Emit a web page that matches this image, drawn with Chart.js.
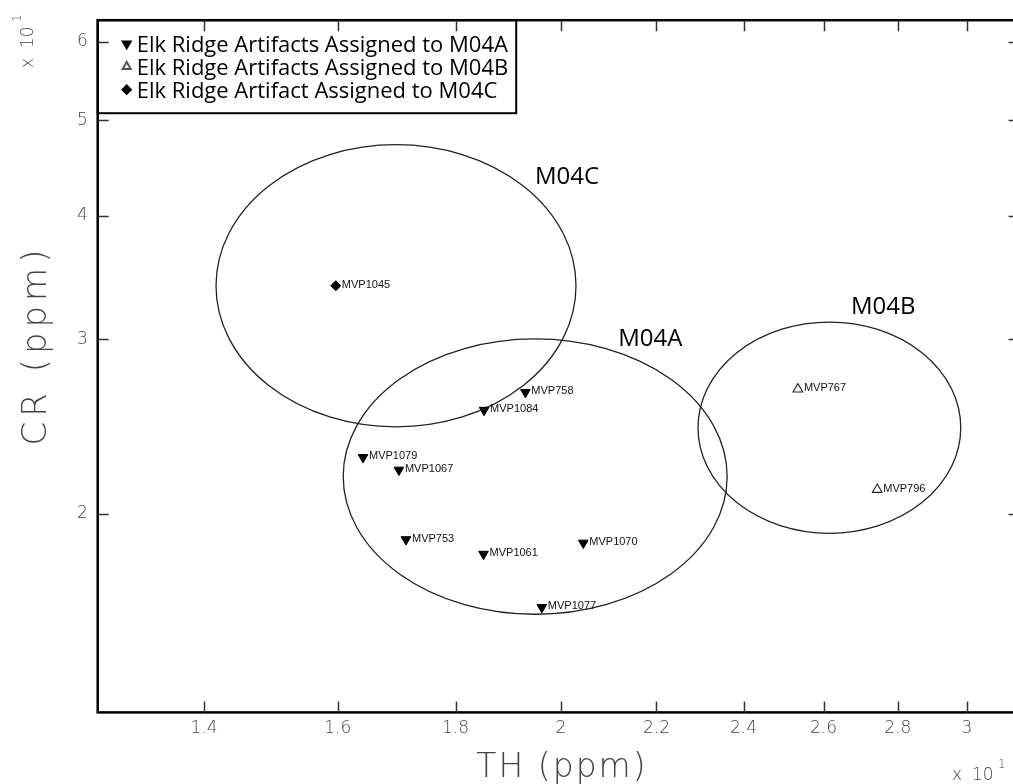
<!DOCTYPE html>
<html>
<head>
<meta charset="utf-8">
<script src="https://cdn.jsdelivr.net/npm/chart.js@4.4.1/dist/chart.umd.min.js"></script>
<style>
  html, body { margin: 0; padding: 0; background: #fff; overflow: hidden; width: 1013px; height: 784px; }
  #wrap { position: relative; width: 1030px; height: 784px; }
  canvas { display: block; }
</style>
</head>
<body>
<div id="wrap"><canvas id="c" width="1030" height="784"></canvas></div>
<script>
// Th vs Cr (ppm) for Elk Ridge artifacts, grouped by assigned source
const m04aIds = ['MVP758', 'MVP1084', 'MVP1079', 'MVP1067', 'MVP753', 'MVP1061', 'MVP1070', 'MVP1077'];
const m04aTh  = [19.30, 18.52, 16.41, 17.01, 17.13, 18.51, 20.45, 19.62];
const m04aCr  = [26.53, 25.45, 22.80, 22.14, 18.83, 18.20, 18.68, 16.08];

const m04bIds = ['MVP767', 'MVP796'];
const m04bTh  = [25.34, 27.43];
const m04bCr  = [26.72, 21.15];

const m04cIds = ['MVP1045'];
const m04cTh  = [15.97];
const m04cCr  = [34.0];

// Source group ellipses: centre (ppm) and half-axes (log10 units)
const groupNames = ['M04A', 'M04B', 'M04C'];
const groupTh    = [19.49, 26.15, 16.96];
const groupCr    = [21.80, 24.43, 34.00];
const groupHalfX = [0.0833, 0.0570, 0.0781];
const groupHalfY = [0.1392, 0.1068, 0.1427];

// Axis ticks (labels shown in units of 10 ppm)
const xTickValues = [14, 16, 18, 20, 22, 24, 26, 28, 30];
const xTickLabels = ['1.4', '1.6', '1.8', '2', '2.2', '2.4', '2.6', '2.8', '3'];
const yTickValues = [20, 30, 40, 50, 60];
const yTickLabels = ['2', '3', '4', '5', '6'];

const legendLabels = [
  'Elk Ridge Artifacts Assigned to M04A',
  'Elk Ridge Artifacts Assigned to M04B',
  'Elk Ridge Artifact Assigned to M04C'
];

const toPoints = (xs, ys) => xs.map((v, i) => ({ x: v, y: ys[i] }));

const TICK_FONT = { family: '"DejaVu Sans", sans-serif', size: 17, weight: '200' };
const THIN = '"DejaVu Sans", sans-serif';

const datasets = [
  {
    label: legendLabels[0], ids: m04aIds, data: toPoints(m04aTh, m04aCr),
    pointStyle: 'triangle', rotation: 180, pointRadius: 5.6,
    backgroundColor: '#000', borderColor: '#000', borderWidth: 1
  },
  {
    label: legendLabels[1], ids: m04bIds, data: toPoints(m04bTh, m04bCr),
    pointStyle: 'triangle', rotation: 0, pointRadius: 5.6,
    backgroundColor: 'rgba(255,255,255,0)', borderColor: '#222', borderWidth: 1.1
  },
  {
    label: legendLabels[2], ids: m04cIds, data: toPoints(m04cTh, m04cCr),
    pointStyle: 'rectRot', pointRadius: 5,
    backgroundColor: '#000', borderColor: '#000', borderWidth: 1
  }
];

// Group ellipses and their names
const ellipsePlugin = {
  id: 'groupEllipses',
  beforeDatasetsDraw(chart, args, opts) {
    const { ctx, chartArea: a } = chart;
    const xs = chart.scales.x, ys = chart.scales.y;
    ctx.save();
    ctx.beginPath();
    ctx.rect(a.left, a.top, a.right - a.left, a.bottom - a.top);
    ctx.clip();
    ctx.strokeStyle = '#222';
    ctx.lineWidth = 1.3;
    groupNames.forEach((name, i) => {
      const cx = xs.getPixelForValue(groupTh[i]);
      const cy = ys.getPixelForValue(groupCr[i]);
      const rx = xs.getPixelForValue(groupTh[i] * Math.pow(10, groupHalfX[i])) - cx;
      const ry = cy - ys.getPixelForValue(groupCr[i] * Math.pow(10, groupHalfY[i]));
      ctx.beginPath();
      ctx.ellipse(cx, cy, rx, ry, 0, 0, Math.PI * 2);
      ctx.stroke();
      const off = opts.labelOffsets[i];
      ctx.fillStyle = '#000';
      ctx.font = '24px "Open Sans", sans-serif';
      ctx.textBaseline = 'alphabetic';
      ctx.textAlign = 'left';
      ctx.fillText(name, cx + off[0], cy + off[1]);
    });
    ctx.restore();
  }
};

// Sample ids beside each point
const idPlugin = {
  id: 'sampleIds',
  afterDatasetsDraw(chart) {
    const ctx = chart.ctx;
    ctx.save();
    ctx.font = '11px "Liberation Sans", Arial, sans-serif';
    ctx.fillStyle = '#111';
    ctx.textBaseline = 'middle';
    ctx.textAlign = 'left';
    chart.data.datasets.forEach((ds, i) => {
      chart.getDatasetMeta(i).data.forEach((pt, j) => {
        ctx.fillText(ds.ids[j], pt.x + 6, pt.y - 1);
      });
    });
    ctx.restore();
  }
};

// Boxed legend, frame with inward ticks, axis titles, multipliers
const framePlugin = {
  id: 'frame',
  afterDraw(chart) {
    const { ctx, chartArea: a } = chart;
    const xs = chart.scales.x, ys = chart.scales.y;
    ctx.save();

    // legend box
    ctx.font = '22px "Open Sans", sans-serif';
    const textX = a.left + 39;
    const w = Math.max(...legendLabels.map(t => ctx.measureText(t).width));
    const boxRight = textX + w + 8;
    const boxBottom = a.top + 93;
    ctx.fillStyle = '#fff';
    ctx.fillRect(a.left, a.top, boxRight - a.left, boxBottom - a.top);
    ctx.strokeStyle = '#000';
    ctx.lineWidth = 2;
    ctx.strokeRect(a.left, a.top, boxRight - a.left, boxBottom - a.top);

    const rowY = [a.top + 23.5, a.top + 46.5, a.top + 69.5];
    chart.data.datasets.forEach((ds, i) => {
      const sym = {
        pointStyle: ds.pointStyle, rotation: ds.rotation || 0,
        radius: ds.pointStyle === 'rectRot' ? 4.2 : 4.6,
        borderWidth: 1
      };
      ctx.save();
      ctx.fillStyle = i === 1 ? 'rgba(255,255,255,0)' : '#000';
      ctx.strokeStyle = i === 1 ? '#555' : '#000';
      Chart.helpers.drawPoint(ctx, sym, a.left + 29, rowY[i]);
      ctx.restore();
      ctx.fillStyle = '#000';
      ctx.font = '22px "Open Sans", sans-serif';
      ctx.textBaseline = 'alphabetic';
      ctx.textAlign = 'left';
      ctx.fillText(legendLabels[i], textX, rowY[i] + 8);
    });

    // frame
    ctx.strokeStyle = '#000';
    ctx.lineWidth = 2.5;
    ctx.strokeRect(a.left, a.top, a.right - a.left, a.bottom - a.top);

    // inward ticks on all four sides
    ctx.strokeStyle = '#333';
    ctx.lineWidth = 1.5;
    const tl = 11;
    ctx.beginPath();
    xTickValues.forEach(v => {
      const px = Math.round(xs.getPixelForValue(v)) + 0.5;
      ctx.moveTo(px, a.bottom); ctx.lineTo(px, a.bottom - tl);
      ctx.moveTo(px, a.top); ctx.lineTo(px, a.top + tl);
    });
    yTickValues.forEach(v => {
      const py = Math.round(ys.getPixelForValue(v)) + 0.5;
      ctx.moveTo(a.left, py); ctx.lineTo(a.left + tl, py);
      ctx.moveTo(a.right, py); ctx.lineTo(a.right - tl, py);
    });
    ctx.stroke();

    // axis titles
    ctx.fillStyle = '#444';
    ctx.textAlign = 'center';
    ctx.textBaseline = 'alphabetic';
    ctx.font = '200 33px ' + THIN;
    ctx.letterSpacing = '2px';
    ctx.fillText('TH (ppm)', 562, 777);
    ctx.save();
    ctx.translate(46, 345);
    ctx.rotate(-Math.PI / 2);
    ctx.font = '200 34px ' + THIN;
    ctx.letterSpacing = '5px';
    ctx.fillText('CR (ppm)', 0, 0);
    ctx.restore();
    ctx.letterSpacing = '0px';

    // multipliers
    ctx.textAlign = 'left';
    ctx.font = '200 17px ' + THIN;
    ctx.fillText('x', 952, 780);
    ctx.fillText('10', 972, 780);
    ctx.font = '200 12px ' + THIN;
    ctx.fillText('1', 998, 768);

    ctx.save();
    ctx.translate(33, 68);
    ctx.rotate(-Math.PI / 2);
    ctx.font = '200 17px ' + THIN;
    ctx.fillText('x', 0, 0);
    ctx.fillText('10', 20, 0);
    ctx.font = '200 12px ' + THIN;
    ctx.fillText('1', 46, -12);
    ctx.restore();

    ctx.restore();
  }
};

new Chart(document.getElementById('c'), {
  type: 'scatter',
  data: { datasets },
  options: {
    responsive: false,
    animation: false,
    devicePixelRatio: 1,
    layout: { padding: { top: 11, right: 10.4, left: 0, bottom: 0 } },
    scales: {
      x: {
        type: 'logarithmic',
        position: 'bottom',
        min: 12.589, max: 31.623,
        afterBuildTicks: s => { s.ticks = xTickValues.map(v => ({ value: v })); },
        afterFit: s => { s.height = 71.6; },
        grid: { display: false, drawTicks: false },
        border: { display: false },
        ticks: {
          autoSkip: false, maxRotation: 0, padding: 6,
          color: '#444', font: TICK_FONT,
          callback: v => xTickLabels[xTickValues.indexOf(v)]
        }
      },
      y: {
        type: 'logarithmic',
        position: 'left',
        min: 12.589, max: 63.096,
        afterBuildTicks: s => { s.ticks = yTickValues.map(v => ({ value: v })); },
        afterFit: s => { s.width = 97.7; },
        grid: { display: false, drawTicks: false },
        border: { display: false },
        ticks: {
          autoSkip: false, padding: 10,
          color: '#444', font: TICK_FONT,
          callback: v => yTickLabels[yTickValues.indexOf(v)]
        }
      }
    },
    plugins: {
      legend: { display: false },
      tooltip: { enabled: false },
      groupEllipses: { labelOffsets: [[83, -130.5], [21.5, -114], [139, -102]] }
    }
  },
  plugins: [ellipsePlugin, idPlugin, framePlugin]
});
</script>
</body>
</html>
